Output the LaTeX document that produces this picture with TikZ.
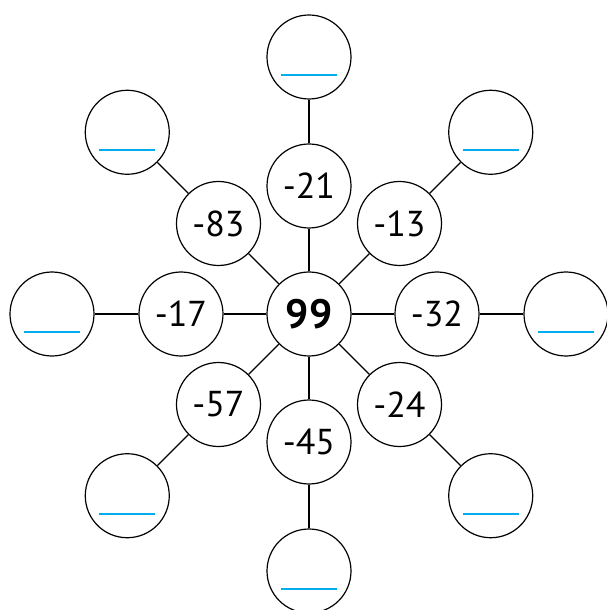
\documentclass[tikz,border=0pt]{standalone}
\usepackage{fontspec}
\setmainfont{PT Sans}
\usetikzlibrary{positioning}
\definecolor{blankblue}{RGB}{0,174,239}
\tikzset{
  hubnode/.style={draw, circle, line width=1.2pt, fill=white, minimum size=84pt, inner sep=0pt, font=\fontsize{41}{41}\selectfont\bfseries},
  numnode/.style={draw, circle, line width=1.2pt, fill=white, minimum size=84pt, inner sep=0pt, font=\fontsize{36}{36}\selectfont},
  blanknode/.style={draw, circle, line width=1.2pt, fill=white, minimum size=84pt, inner sep=0pt},
  blankline/.style={inner sep=0pt, text=blankblue},
  spoke/.style={line width=1.1pt}
}

\begin{document}
\begin{tikzpicture}
  \fill[white] (-309pt,-296pt) rectangle (298pt,314pt);
  \useasboundingbox (-309pt,-296pt) rectangle (298pt,314pt);
  % hub
  \node[hubnode] (hub) at (0,0) {99};
  % inner ring
  \node[numnode] (n21) at (90:128pt) {-21};
  \node[numnode] (n13) at (45:128pt) {-13};
  \node[numnode] (n32) at (0:128pt) {-32};
  \node[numnode] (n24) at (-45:128pt) {-24};
  \node[numnode] (n45) at (-90:128pt) {-45};
  \node[numnode] (n57) at (-135:128pt) {-57};
  \node[numnode] (n17) at (180:128pt) {-17};
  \node[numnode] (n83) at (135:128pt) {-83};
  % outer ring
  \node[blanknode] (o21) at (90:257pt) {};
  \node[blanknode] (o13) at (45:257pt) {};
  \node[blanknode] (o32) at (0:257pt) {};
  \node[blanknode] (o24) at (-45:257pt) {};
  \node[blanknode] (o45) at (-90:257pt) {};
  \node[blanknode] (o57) at (-135:257pt) {};
  \node[blanknode] (o17) at (180:257pt) {};
  \node[blanknode] (o83) at (135:257pt) {};
  % answer lines
  \foreach \o in {o21,o13,o32,o24,o45,o57,o17,o83}
    \node[blankline] (a\o) at ([yshift=-18pt]\o.center) {\rule{56pt}{2pt}};
  % spokes
  \foreach \n in {21,13,32,24,45,57,17,83} {
    \draw[spoke] (hub) -- (n\n);
    \draw[spoke] (n\n) -- (o\n);
  }
\end{tikzpicture}
\end{document}
